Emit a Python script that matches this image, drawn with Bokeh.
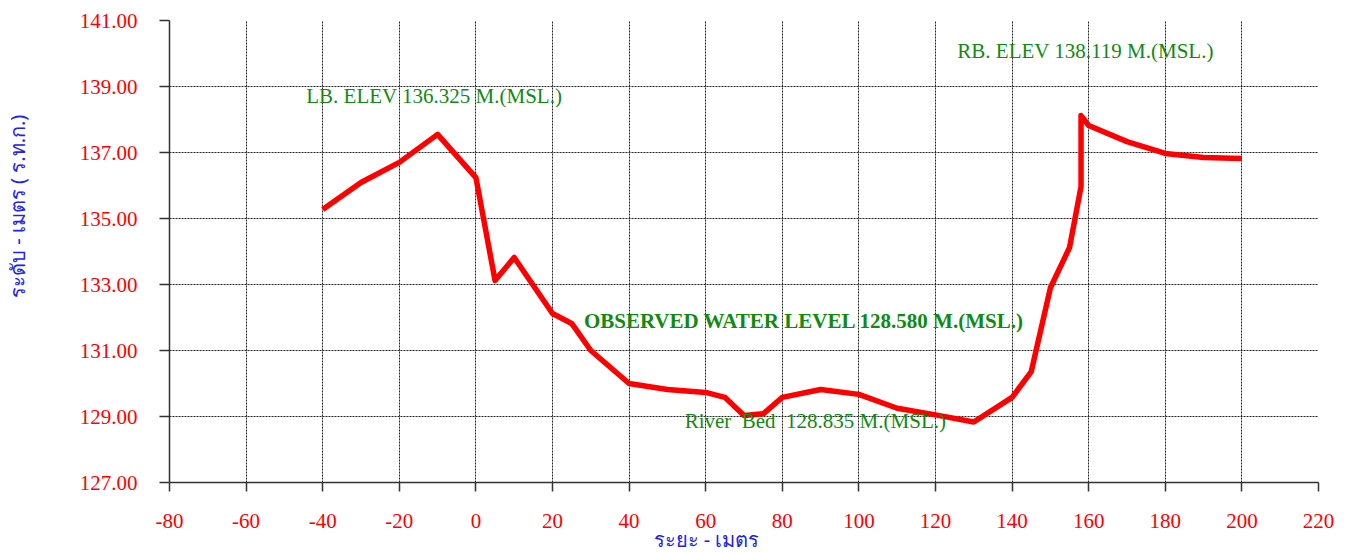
from bokeh.plotting import figure
from bokeh.models import Range1d, FixedTicker, Label, Title, CustomJSTickFormatter
from bokeh.embed import file_html
from bokeh.resources import INLINE

# ---- data ----
distance = [-40, -30, -20, -10, 0, 5, 10, 20, 25, 30, 40, 50, 60, 65, 70, 75, 80,
            90, 100, 110, 120, 130, 140, 145, 150, 155, 158, 158, 160, 170, 180, 190, 200]
elevation = [135.27, 136.09, 136.70, 137.55, 136.24, 133.12, 133.82, 132.12, 131.82,
             131.00, 130.00, 129.82, 129.73, 129.58, 129.03, 129.08, 129.58, 129.82,
             129.67, 129.25, 129.05, 128.835, 129.58, 130.36, 132.90, 134.12, 135.97,
             138.119, 137.82, 137.33, 136.97, 136.85, 136.82]
x_ticks = list(range(-80, 221, 20))
y_ticks = [127, 129, 131, 133, 135, 137, 139, 141]
annotations = [
    ("LB. ELEV 136.325 M.(MSL.)", -44.3, 138.70, "normal"),
    ("RB. ELEV 138.119 M.(MSL.)", 125.7, 140.08, "normal"),
    ("OBSERVED WATER LEVEL 128.580 M.(MSL.)", 28.2, 131.90, "bold"),
    ("River\u00a0\u00a0Bed\u00a0\u00a0128.835 M.(MSL.)", 54.5, 128.85, "normal"),
]
x_title = "ระยะ - เมตร"
y_title = "ระดับ - เมตร ( ร.ท.ก.)"

SERIF = "Liberation Serif"

p = figure(width=1344, height=552, output_backend="svg", toolbar_location=None,
           x_range=Range1d(-80, 220), y_range=Range1d(127, 141),
           min_border_left=168, min_border_right=26, min_border_top=20,
           min_border_bottom=70)
p.outline_line_color = None
p.background_fill_color = "white"
p.border_fill_color = "white"

p.line(distance, elevation, line_color="#ff0000", line_width=5.5, line_join="round")

for ax in (p.xaxis[0], p.yaxis[0]):
    ax.axis_line_color = "#333333"
    ax.axis_line_width = 1.5
    ax.major_tick_line_color = "#333333"
    ax.major_tick_line_width = 1.5
    ax.major_tick_in = 0
    ax.minor_tick_line_color = None
    ax.major_label_text_color = "#ff0000"
    ax.major_label_text_font = SERIF
    ax.major_label_text_font_size = "21px"

p.xaxis[0].ticker = FixedTicker(ticks=x_ticks)
p.xaxis[0].major_tick_out = 9
p.xaxis[0].major_label_standoff = 22
p.xaxis[0].formatter = CustomJSTickFormatter(code="return String(tick);")
p.yaxis[0].ticker = FixedTicker(ticks=y_ticks)
p.yaxis[0].major_tick_out = 10
p.yaxis[0].major_label_standoff = 22
p.yaxis[0].formatter = CustomJSTickFormatter(code="return tick.toFixed(2);")

# y axis title: leading em-spaces shift the (bottom-to-top) text upward as in the reference
p.yaxis[0].axis_label = "\u2003\u2003\u2003\u2003\u00a0\u00a0" + y_title
p.yaxis[0].axis_label_text_color = "#2222ee"
p.yaxis[0].axis_label_text_font = "Noto Sans"
p.yaxis[0].axis_label_text_font_size = "20px"
p.yaxis[0].axis_label_text_font_style = "normal"
p.yaxis[0].axis_label_standoff = 46

for g in (p.xgrid[0], p.ygrid[0]):
    g.grid_line_color = "#222222"
    g.grid_line_alpha = 1.0
    g.grid_line_dash = "2 1"
    g.grid_line_width = 1
p.xgrid[0].ticker = FixedTicker(ticks=x_ticks)
p.ygrid[0].ticker = FixedTicker(ticks=y_ticks)

for txt, x, y, weight in annotations:
    p.add_layout(Label(x=x, y=y, text=txt, text_color="#108a10", text_font=SERIF,
                       text_font_size="21px", text_font_style=weight,
                       text_baseline="middle", text_align="left"))

p.add_layout(Title(text=x_title, text_color="#2222ee", text_font="Noto Sans",
                   text_font_size="20px", text_font_style="normal",
                   align="left", offset=484, standoff=-14), "below")

open("out.html", "w").write(file_html(p, INLINE))
